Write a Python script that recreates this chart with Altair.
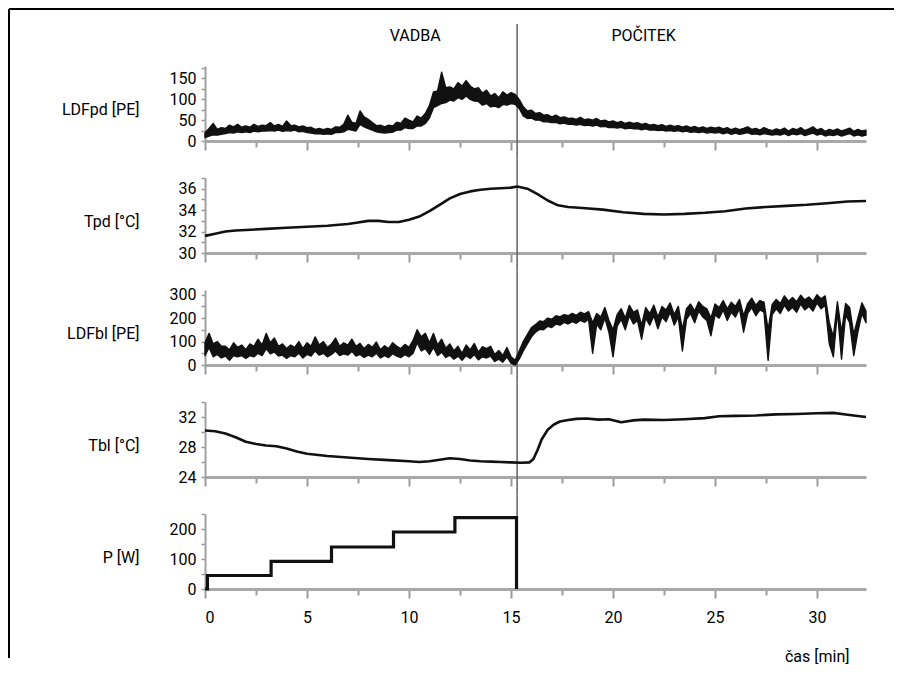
import altair as alt
import pandas as pd

# ---------------- data ----------------
STEP = 0.2  # sampling step of the laser-Doppler traces, minutes

# LDFpd noise band: lower / upper envelope every 0.2 min
LDFPD_LO = [
    8, 12, 15, 14, 16,  18, 20, 19, 22, 20,  22, 20, 24, 22, 24,  24, 25, 24, 26, 23,
    25, 24, 26, 22, 23,  20, 19, 17, 18, 16,  17, 16, 20, 20, 22,  28, 26, 24, 40, 34,
    30, 26, 22, 20, 19,  20, 21, 26, 26, 32,  30, 30, 36, 36, 42,  55, 80, 85, 90, 92,
    98, 96, 104, 100, 108,  100, 96, 95, 86, 90,  82, 84, 80, 88, 86,  90, 88, 78, 60, 54,
    55, 50, 50, 46, 46,  44, 45, 41, 43, 40,  40, 38, 40, 37, 38,  36, 38, 34, 35, 32,
    33, 31, 33, 29, 31,  29, 30, 27, 29, 26,  27, 25, 26, 24, 25,  23, 25, 22, 24, 21,
    22, 20, 22, 19, 21,  19, 21, 17, 20, 16,  19, 16, 18, 20, 16,  17, 15, 18, 16, 14,
    16, 14, 18, 13, 17,  15, 18, 13, 16, 19,  14, 17, 12, 15, 13,  16, 12, 15, 18, 12,
    15, 12, 14,
]
LDFPD_HI = [
    20, 30, 42, 28, 32,  30, 38, 34, 40, 33,  36, 33, 40, 35, 38,  37, 44, 36, 40, 35,
    48, 37, 38, 34, 36,  32, 33, 28, 30, 27,  30, 28, 34, 33, 40,  62, 45, 42, 72, 58,
    52, 44, 37, 38, 34,  38, 36, 45, 42, 55,  50, 46, 60, 55, 66,  85, 118, 120, 165, 128,
    130, 125, 140, 132, 145,  132, 125, 128, 115, 122,  108, 114, 104, 118, 110,  116, 112, 100, 82, 72,
    74, 66, 68, 62, 63,  58, 62, 56, 58, 54,  55, 52, 57, 51, 53,  50, 54, 48, 50, 46,
    48, 44, 47, 42, 45,  42, 44, 40, 42, 38,  40, 37, 39, 35, 38,  35, 37, 33, 36, 32,
    35, 31, 34, 30, 33,  31, 33, 29, 32, 27,  31, 27, 30, 34, 28,  30, 26, 32, 28, 25,
    29, 26, 31, 24, 30,  27, 32, 25, 29, 34,  26, 30, 23, 28, 25,  29, 24, 27, 31, 23,
    28, 24, 26,
]

# LDFbl noise band: lower / upper envelope every 0.2 min
LDFBL_LO = [
    40, 75, 35, 45, 30,  38, 20, 40, 35, 40,  28, 40, 35, 50, 40,  70, 48, 55, 38, 42,
    28, 40, 35, 50, 30,  45, 38, 60, 42, 50,  35, 45, 60, 40, 48,  42, 58, 38, 45, 32,
    42, 35, 50, 30, 40,  32, 48, 38, 32, 44,  35, 50, 95, 60, 70,  45, 75, 40, 55, 32,
    42, 25, 38, 20, 40,  28, 45, 22, 35, 30,  38, 15, 25, 12, 35,  8, 0, 25, 60, 90,
    120, 140, 152, 150, 165,  160, 175, 170, 182, 175,  185, 178, 190, 182, 195,  50, 175, 150, 200, 140,
    35, 165, 195, 150, 210,  175, 190, 110, 200, 170,  210, 155, 205, 185, 225,  170, 205, 60, 195, 220,
    180, 230, 205, 190, 125,  215, 200, 235, 190, 225,  205, 240, 140, 220, 245,  210, 235, 225, 20, 215,
    240, 220, 255, 230, 245,  225, 260, 235, 250, 230,  265, 240, 255, 90, 35,  230, 25, 215, 180, 40,
    140, 220, 180,
]
LDFBL_HI = [
    95, 135, 90, 100, 80,  80, 65, 95, 75, 85,  65, 90, 80, 110, 85,  135, 95, 115, 80, 90,
    70, 85, 75, 100, 70,  95, 80, 120, 85, 100,  75, 90, 115, 80, 95,  85, 110, 80, 92, 70,
    88, 75, 98, 65, 82,  70, 95, 80, 70, 88,  75, 105, 150, 120, 135,  95, 135, 85, 110, 72,
    90, 60, 80, 50, 85,  65, 92, 55, 78, 70,  80, 45, 62, 40, 75,  35, 20, 60, 100, 130,
    160, 172, 188, 185, 200,  195, 210, 205, 215, 210,  220, 212, 225, 218, 228,  180, 220, 205, 245, 190,
    150, 215, 240, 200, 255,  225, 235, 170, 245, 220,  255, 205, 250, 235, 265,  215, 250, 150, 240, 260,
    230, 270, 250, 240, 200,  260, 245, 275, 240, 268,  250, 280, 210, 262, 285,  255, 275, 268, 150, 258,
    280, 262, 295, 272, 288,  270, 298, 278, 290, 272,  300, 282, 295, 180, 120,  270, 140, 262, 245, 130,
    200, 265, 230,
]

TPD_T = [0, 0.5, 1, 1.5, 2, 3, 4, 5, 6, 7, 7.5, 8, 8.5, 9, 9.5, 10, 10.5, 11, 11.5, 12,
         12.5, 13, 13.5, 14, 14.5, 15, 15.3, 15.8, 16.3, 16.8, 17.3, 17.8, 18.5, 19.5, 20.5,
         21.5, 22.5, 23.5, 24.5, 25.5, 26.5, 27.5, 28.5, 29.5, 30.5, 31.5, 32.4]
TPD = [31.6, 31.8, 32.0, 32.1, 32.15, 32.25, 32.35, 32.45, 32.55, 32.7, 32.85, 33.0, 33.0,
       32.9, 32.9, 33.1, 33.4, 33.9, 34.5, 35.1, 35.5, 35.75, 35.9, 36.0, 36.05, 36.1, 36.2,
       36.0, 35.5, 34.9, 34.45, 34.3, 34.2, 34.05, 33.8, 33.65, 33.6, 33.65, 33.75, 33.9,
       34.15, 34.3, 34.4, 34.5, 34.65, 34.8, 34.85]

TBL_T = [0, 0.5, 1, 1.5, 2, 2.5, 3, 3.5, 4, 4.5, 5, 6, 7, 8, 9, 10, 10.5, 11, 11.5, 12,
         12.5, 13, 13.5, 14, 14.5, 15, 15.5, 15.9, 16.1, 16.3, 16.5, 16.8, 17.1, 17.4, 17.8,
         18.2, 18.7, 19.3, 19.8, 20.4, 21, 21.5, 22.5, 23.5, 24.5, 25.2, 26, 27, 28, 29, 30,
         30.8, 31.5, 32.4]
TBL = [30.2, 30.1, 29.8, 29.3, 28.7, 28.4, 28.2, 28.1, 27.8, 27.4, 27.1, 26.8, 26.6, 26.4,
       26.25, 26.1, 26.0, 26.1, 26.3, 26.5, 26.4, 26.2, 26.1, 26.05, 26.0, 25.95, 25.9, 25.95,
       26.4, 27.6, 29.0, 30.3, 31.0, 31.4, 31.6, 31.75, 31.8, 31.65, 31.7, 31.3, 31.55, 31.65,
       31.6, 31.7, 31.85, 32.1, 32.15, 32.2, 32.35, 32.4, 32.5, 32.55, 32.3, 32.0]

P_T = [0, 0.12, 3.24, 6.2, 9.24, 12.25, 15.27]
P = [0, 45, 92, 140, 190, 238, 0]

VLINE = 15.3
X_MAX = 32.4
X_TICKS = [0, 2.5, 5, 7.5, 10, 12.5, 15, 17.5, 20, 22.5, 25, 27.5, 30]
PHASES = ["VADBA", "POČITEK"]
PHASE_X = [10.3, 21.5]

TITLES = ["LDFpd [PE]", "Tpd [°C]", "LDFbl [PE]", "Tbl [°C]", "P [W]"]
Y_DOMAINS = [[0, 180], [30, 37], [0, 320], [24, 34], [0, 250]]
Y_TICKS = [
    [0, 25, 50, 75, 100, 125, 150, 175],
    [30, 31, 32, 33, 34, 35, 36, 37],
    [0, 50, 100, 150, 200, 250, 300],
    [24, 26, 28, 30, 32, 34],
    [0, 50, 100, 150, 200, 250],
]
Y_LABELS = [[0, 50, 100, 150], [30, 32, 34, 36], [0, 100, 200, 300], [24, 28, 32], [0, 100, 200]]

# ---------------- layout ----------------
FONT = "Roboto"
FS = 16
W, H = 661, 75
GAP = 37
FRAME_X = -196


def grid_times(n):
    return [round(i * STEP, 2) for i in range(n)]


ldfpd_df = pd.DataFrame({"t": grid_times(len(LDFPD_LO)), "lo": LDFPD_LO, "hi": LDFPD_HI})
ldfbl_df = pd.DataFrame({"t": grid_times(len(LDFBL_LO)), "lo": LDFBL_LO, "hi": LDFBL_HI})
tpd_df = pd.DataFrame({"t": TPD_T, "v": TPD})
tbl_df = pd.DataFrame({"t": TBL_T, "v": TBL})
p_df = pd.DataFrame({"t": P_T, "v": P})
vline_df = pd.DataFrame({"t": [VLINE]})
phase_df = pd.DataFrame({"t": PHASE_X, "label": PHASES})
frame_df = pd.DataFrame({"k": [0]})

DFS = [ldfpd_df, tpd_df, ldfbl_df, tbl_df, p_df]
BAND = [True, False, True, False, False]
WIDTHS = [1.4, 2.6, 1.4, 2.6, 3.2]


def panel(i):
    last = i == 4
    xkw = dict(
        values=X_TICKS,
        tickSize={"condition": {"test": "datum.value % 5 === 0", "value": 9}, "value": 6},
        tickColor="#9a9a9a",
        tickWidth=2,
        domainColor="#a8a8a8",
        domainWidth=3,
        grid=False,
        labels=last,
    )
    if last:
        xkw.update(
            labelExpr="datum.value % 5 === 0 ? datum.label : ''",
            labelFont=FONT,
            labelFontSize=FS,
            labelColor="black",
            labelPadding=11,
            title="čas [min]",
            titleFont=FONT,
            titleFontSize=FS,
            titleFontWeight="normal",
            titleColor="black",
            titleAlign="right",
            titleBaseline="middle",
            titleX=644,
            titleY=67,
        )
    xaxis = alt.Axis(**xkw)
    labs = ",".join(str(v) for v in Y_LABELS[i])
    yaxis = alt.Axis(
        values=Y_TICKS[i],
        labelExpr=f"indexof([{labs}], datum.value) >= 0 ? datum.label : ''",
        tickSize=4,
        tickColor="#9a9a9a",
        tickWidth=1.5,
        domainColor="#a0a0a0",
        domainWidth=2,
        grid=False,
        labelFont=FONT,
        labelFontSize=FS,
        labelColor="black",
        labelPadding=5,
        title=TITLES[i],
        titleAngle=0,
        titleAlign="right",
        titleBaseline="middle",
        titleX=-66,
        titleY=43,
        titleFont=FONT,
        titleFontSize=FS,
        titleFontWeight="normal",
        titleColor="black",
    )
    x = alt.X("t:Q", scale=alt.Scale(domain=[0, X_MAX], nice=False, zero=False),
              axis=xaxis, title="čas [min]" if last else None)
    yscale = alt.Scale(domain=Y_DOMAINS[i], nice=False, zero=False)

    if BAND[i]:
        trace = alt.Chart(DFS[i]).mark_area(
            color="#111111", stroke="#111111", strokeWidth=WIDTHS[i], strokeJoin="round"
        ).encode(x=x, y=alt.Y("lo:Q", scale=yscale, axis=yaxis), y2="hi:Q")
    else:
        line_kw = dict(color="#111111", strokeWidth=WIDTHS[i], strokeJoin="round")
        if last:
            line_kw["interpolate"] = "step-after"
            line_kw["strokeJoin"] = "miter"
        trace = alt.Chart(DFS[i]).mark_line(**line_kw).encode(
            x=x, y=alt.Y("v:Q", scale=yscale, axis=yaxis)
        )

    top = -42 if i == 0 else -GAP / 2
    bottom = H if last else H + GAP / 2
    rule = alt.Chart(vline_df).mark_rule(color="#6a6a6a", strokeWidth=1.6).encode(
        x="t:Q", y=alt.value(top), y2=alt.value(bottom)
    )
    layers = [rule, trace]
    if i == 0:
        text = alt.Chart(phase_df).mark_text(font=FONT, fontSize=FS, color="black").encode(
            x="t:Q", y=alt.value(-30), text="label:N"
        )
        frame_top = alt.Chart(frame_df).mark_rule(
            color="black", strokeWidth=2, strokeCap="butt"
        ).encode(
            x=alt.value(FRAME_X), x2=alt.value(W + 28), y=alt.value(-57), y2=alt.value(-57)
        )
        frame_left = alt.Chart(frame_df).mark_rule(
            color="black", strokeWidth=2, strokeCap="butt"
        ).encode(
            x=alt.value(FRAME_X), x2=alt.value(FRAME_X), y=alt.value(-57), y2=alt.value(592)
        )
        layers += [text, frame_top, frame_left]
    return alt.layer(*layers).properties(width=W, height=H)


chart = (
    alt.vconcat(*[panel(i) for i in range(5)], spacing=GAP, bounds="flush")
    .properties(padding=0)
    .configure(background="white")
    .configure_view(stroke=None)
)

chart.save("out.html", embed_options={"renderer": "svg", "actions": False})
